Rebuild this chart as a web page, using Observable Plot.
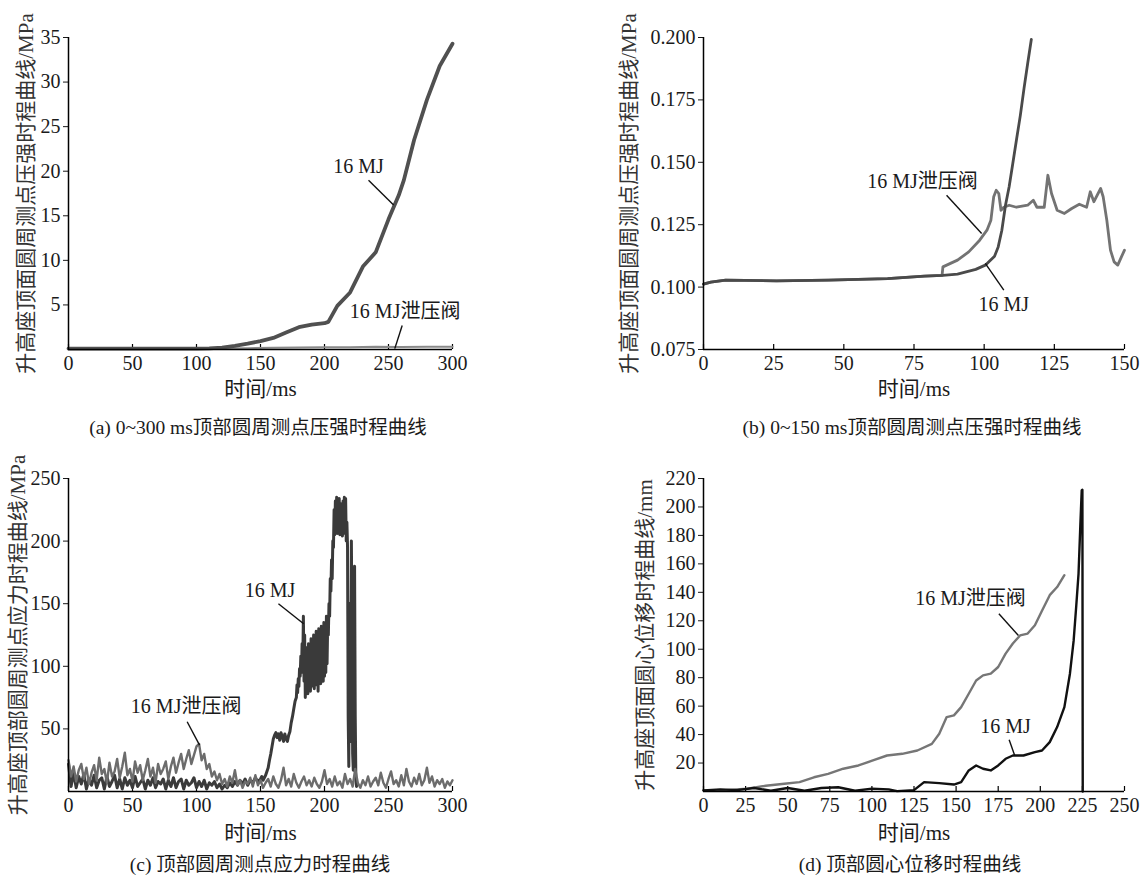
<!DOCTYPE html>
<html><head><meta charset="utf-8">
<script src="https://cdn.jsdelivr.net/npm/d3@7"></script>
<script src="https://cdn.jsdelivr.net/npm/@observablehq/plot@0.6"></script>
<style>
body{margin:0;background:#fff;}
#root{position:relative;width:1141px;height:877px;overflow:hidden;font-family:"Liberation Serif","Noto Sans CJK SC",serif;}
.panel{position:absolute;}
.cap{position:absolute;font-size:19.5px;color:#1a1a1a;white-space:nowrap;transform:translate(-50%,-50%);}
</style></head><body><div id="root"></div><script>
// ---------- (a) 0~300 ms pressure ----------
const aT16 = [0,20,40,60,80,100,110,120,130,140,150,160,170,180,190,200,203,210,220,230,240,250,258,262,270,280,290,300];
const aV16 = [0.1,0.1,0.1,0.1,0.1,0.1,0.12,0.2,0.4,0.65,0.95,1.3,1.9,2.5,2.8,2.95,3.1,4.9,6.4,9.3,10.9,14.6,17.3,19.0,23.5,28,31.8,34.3];
const aTv = [0,20,40,60,80,100,120,140,160,180,200,220,240,260,280,300];
const aVv = [0.1,0.1,0.1,0.1,0.1,0.1,0.12,0.15,0.2,0.22,0.25,0.25,0.3,0.28,0.3,0.3];
const aXTicks = [0,50,100,150,200,250,300];
const aYTicks = [5,10,15,20,25,30,35];

// ---------- (b) 0~150 ms pressure ----------
const bT16 = [0,2.6,7.9,26,44.6,65.6,78.7,85.3,90.5,97,100.4,103.7,105,106.3,107.6,108.9,110.2,111.5,112.9,114.2,115.5,116.8];
const bV16 = [0.1012,0.102,0.1028,0.1025,0.1028,0.1034,0.1044,0.1047,0.1052,0.1071,0.1088,0.1124,0.1161,0.1228,0.1328,0.1402,0.1495,0.1589,0.1689,0.1796,0.1896,0.1992];
const bTv = [0,2.6,7.9,26,44.6,65.6,78.7,85,85.3,90.5,94.5,98.4,101,102.4,103.4,104.3,105.2,106,107,108.9,111.5,115.5,117.5,118.8,121.4,122.7,124,126,128.6,131.2,133.9,136.5,137.8,139.1,141.5,142.4,143.7,145,146.3,147.6,148.9,150];
const bVv = [0.1012,0.102,0.1028,0.1025,0.1028,0.1034,0.1044,0.1047,0.1081,0.1108,0.1141,0.1188,0.1228,0.1268,0.1362,0.1388,0.1375,0.1308,0.132,0.1328,0.132,0.1328,0.1348,0.132,0.132,0.1448,0.1375,0.1308,0.1295,0.1315,0.1332,0.132,0.1382,0.1342,0.1395,0.1362,0.1268,0.1148,0.1101,0.1088,0.1121,0.1148];
const bXTicks = [0,25,50,75,100,125,150];
const bYTicks = [0.075,0.1,0.125,0.15,0.175,0.2];

// ---------- (c) stress ----------
const cT16a = d3.range(0, 150, 2);
const cV16a = [22,4,15,3,12,6,14,2,10,5,13,3,9,11,2,12,4,8,13,3,
  10,2,11,5,9,3,12,4,7,10,2,9,5,11,3,8,6,10,2,9,
  4,11,3,8,10,2,9,5,7,11,3,8,4,9,2,7,5,8,3,6,
  2,5,3,7,4,8,5,9,6,10,5,9,7,11,8];
const cT16b = d3.range(150, 178, 1);
const cV16b = [10,12,9,11,13,16,19,25,30,36,42,45,47,43,46,41,47,44,40,46,42,40,45,48,55,60,66,72];
const cT16c = d3.range(178, 225.25, 0.5);
const cV16c = [75,85,79,90,84,98,
  92,108,95,118,100,140,88,125,75,112,
  80,115,78,118,86,105,80,122,84,110,
  88,125,82,118,90,128,85,122,80,130,
  92,120,86,132,95,125,88,135,92,128,
  95,140,102,135,125,150,140,170,160,185,
  170,200,195,225,205,232,210,235,206,228,
  212,234,205,230,208,225,204,232,210,235,
  206,234,200,215,195,60,20,150,94,40,
  200,120,30,17,160,180,60,10,4];
const cTv = d3.range(0, 301, 2);
const cVv = [25,12,20,8,17,22,10,19,6,15,21,9,27,14,18,7,23,12,16,26,
  11,20,31,13,18,8,24,15,21,9,17,26,12,19,7,22,14,18,24,10,
  20,27,15,23,30,18,26,33,22,29,36,38,25,30,18,22,12,16,9,14,
  6,10,4,12,7,17,5,9,3,8,6,11,4,13,5,9,3,7,10,4,
  12,6,3,9,19,5,10,4,14,7,3,8,12,5,9,4,11,6,3,8,
  17,6,10,4,12,5,8,3,14,6,10,4,18,7,3,9,5,12,4,8,
  11,5,15,7,3,10,16,6,9,4,13,5,18,8,4,11,6,14,5,9,
  19,7,12,4,9,6,10,3,8,5,9];
const cXTicks = [0,50,100,150,200,250,300];
const cYTicks = [50,100,150,200,250];

// ---------- (d) displacement ----------
const dT16 = [0,10,20,30,40,50,60,70,80,90,100,110,115,125,131,140,148.7,153,157.5,161.9,166,170.6,175,179.4,183.7,190,196.8,201,205.6,210,214.3,217.6,219.8,221.3,222.7,223.8,224.6,225,225.2];
const dV16 = [0.7,1.5,1,2.5,0.5,2.5,0.5,2.5,3,0.5,2,1.5,0.3,1,6.6,5.9,4.9,6.6,14.8,18.3,16,14.8,18.3,23,25.3,25.3,27.7,28.8,34.7,45.3,59.3,82.8,106,129.7,153,188,211.7,212,0];
const dTv = [0,13,26,37,48,57,65.6,74,83,92,100.6,109,118,127,135.6,140,144.4,148.7,153,157.5,161.9,166,170.6,175,179.4,183.7,188,192.5,196.8,201,205.6,210,214.3];
const dVv = [0.7,1,2,4,5.4,6.6,10,12.4,16,18.3,21.8,25.3,26.5,28.8,33.5,40.6,52.3,53.5,59.3,68.7,78,81.6,82.8,87.5,96.9,104,109.7,111,116.8,127,138,143.7,152];
const dXTicks = [0,25,50,75,100,125,150,175,200,225,250];
const dYTicks = [20,40,60,80,100,120,140,160,180,200,220];

// ---------- text ----------
const sMJ = "16 MJ";
const sValve = "16 MJ泄压阀";
const xLabel = "时间/ms";
const yLabels = ["升高座顶面圆周测点压强时程曲线/MPa","升高座顶面圆周测点压强时程曲线/MPa","升高座顶部圆周测点应力时程曲线/MPa","升高座顶面圆心位移时程曲线/mm"];
const captions = ["(a) 0~300 ms顶部圆周测点压强时程曲线","(b) 0~150 ms顶部圆周测点压强时程曲线","(c) 顶部圆周测点应力时程曲线","(d) 顶部圆心位移时程曲线"];

// annotation anchors (data units)
const aNotes = [{x:226.5,y:20.5,t:sMJ},{x:263,y:4.2,t:sValve}];
const aLeads = [{x1:234.4,y1:19,x2:254,y2:16.2},{x1:260.7,y1:2.7,x2:254.9,y2:0.1}];
const bNotes = [{x:78,y:0.1422,t:sValve},{x:107,y:0.0928,t:sMJ}];
const bLeads = [{x1:86.6,y1:0.1368,x2:99.1,y2:0.1215},{x1:107,y1:0.0988,x2:100.4,y2:0.1095}];
const cNotes = [{x:157.5,y:160.8,t:sMJ},{x:91.9,y:67.6,t:sValve}];
const cLeads = [{x1:164,y1:150,x2:183.7,y2:134},{x1:92.7,y1:55.7,x2:102.4,y2:37}];
const dNotes = [{x:158.6,y:135.5,t:sValve},{x:179.3,y:45.3,t:sMJ}];
const dLeads = [{x1:175.4,y1:125,x2:187,y2:109.7},{x1:181.5,y1:36.3,x2:184.8,y2:25.3}];

const zip = (xs, ys) => xs.map((x, i) => ({x, y: ys[i]}));
const root = document.getElementById("root");
const FONT = '"Liberation Serif","Noto Sans CJK SC",serif';

function panel(o) {
  const plotH = o.height - o.mT - o.mB;
  const marks = [
    Plot.axisX(o.xTicks, {tickSize: 0, tickPadding: 6, fontSize: 20, label: null}),
    Plot.axisY(o.yTicks, {tickSize: 5, tickPadding: 3, fontSize: 20, label: null, tickFormat: o.yFmt}),
    Plot.tickX(o.xTicks, {x: d => d, insetTop: plotH - 5, stroke: "#000", strokeWidth: 1.2}),
    ...o.series.map(s => Plot.line(s.data, {x: "x", y: "y", stroke: s.color, strokeWidth: s.w, curve: "linear"})),
    Plot.ruleX([o.xDomain[0]], {stroke: "#000", strokeWidth: 1.5}),
    Plot.ruleY([o.yDomain[0]], {stroke: "#000", strokeWidth: 1.5}),
    Plot.link(o.leads, {x1: "x1", y1: "y1", x2: "x2", y2: "y2", stroke: "#111", strokeWidth: 1.4}),
    Plot.text(o.notes, {x: "x", y: "y", text: "t", fontSize: 20, fill: "#1a1a1a"}),
    Plot.text([o.yLabel], {text: d => d, frameAnchor: "left", textAnchor: "middle", lineAnchor: "middle", rotate: -90, dx: o.yLabelDx, fontSize: 21, fill: "#333"}),
    Plot.text([xLabel], {text: d => d, frameAnchor: "bottom", textAnchor: "middle", lineAnchor: "middle", dy: o.xLabelDy, fontSize: 21, fill: "#1a1a1a"})
  ];
  const svg = Plot.plot({
    width: o.width, height: o.height,
    marginLeft: o.mL, marginRight: o.mR, marginTop: o.mT, marginBottom: o.mB,
    x: {domain: o.xDomain},
    y: {domain: o.yDomain},
    style: {fontFamily: FONT, fontSize: "20px", background: "transparent", color: "#1a1a1a", overflow: "visible"},
    marks
  });
  const div = document.createElement("div");
  div.className = "panel";
  div.style.left = o.left + "px";
  div.style.top = o.top + "px";
  div.appendChild(svg);
  root.appendChild(div);
  const cap = document.createElement("div");
  cap.className = "cap";
  cap.textContent = o.caption;
  cap.style.left = o.capX + "px";
  cap.style.top = o.capY + "px";
  root.appendChild(cap);
}

panel({left: 0, top: 0, width: 570, height: 400, mL: 68, mR: 118, mT: 37, mB: 51,
  xDomain: [0, 300], yDomain: [0, 35], xTicks: aXTicks, yTicks: aYTicks, yFmt: d3.format("d"),
  series: [{data: zip(aTv, aVv), color: "#8a8a8a", w: 2}, {data: zip(aT16, aV16), color: "#505050", w: 3.8}],
  notes: aNotes, leads: aLeads, yLabel: yLabels[0], yLabelDx: -42, xLabelDy: 40,
  caption: captions[0], capX: 258, capY: 425});

panel({left: 570, top: 0, width: 571, height: 400, mL: 133, mR: 17, mT: 37, mB: 51,
  xDomain: [0, 150], yDomain: [0.075, 0.2], xTicks: bXTicks, yTicks: bYTicks, yFmt: d3.format(".3f"),
  series: [{data: zip(bTv, bVv), color: "#737373", w: 2.8}, {data: zip(bT16, bV16), color: "#4a4a4a", w: 2.8}],
  notes: bNotes, leads: bLeads, yLabel: yLabels[1], yLabelDx: -74, xLabelDy: 40,
  caption: captions[1], capX: 912, capY: 425});

panel({left: 0, top: 440, width: 570, height: 400, mL: 68, mR: 118, mT: 38, mB: 49,
  xDomain: [0, 300], yDomain: [0, 250], xTicks: cXTicks, yTicks: cYTicks, yFmt: d3.format("d"),
  series: [{data: [...zip(cT16a, cV16a), ...zip(cT16b, cV16b), ...zip(cT16c, cV16c)], color: "#3a3a3a", w: 3},
           {data: zip(cTv, cVv), color: "#6c6c6c", w: 2.4}],
  notes: cNotes, leads: cLeads, yLabel: yLabels[2], yLabelDx: -50, xLabelDy: 42,
  caption: captions[2], capX: 260, capY: 862});

panel({left: 570, top: 440, width: 571, height: 400, mL: 133, mR: 17, mT: 38, mB: 49,
  xDomain: [0, 250], yDomain: [0, 220], xTicks: dXTicks, yTicks: dYTicks, yFmt: d3.format("d"),
  series: [{data: zip(dTv, dVv), color: "#767676", w: 2.4}, {data: zip(dT16, dV16), color: "#111", w: 2.4}],
  notes: dNotes, leads: dLeads, yLabel: yLabels[3], yLabelDx: -58, xLabelDy: 42,
  caption: captions[3], capX: 910, capY: 862});
</script></body></html>
